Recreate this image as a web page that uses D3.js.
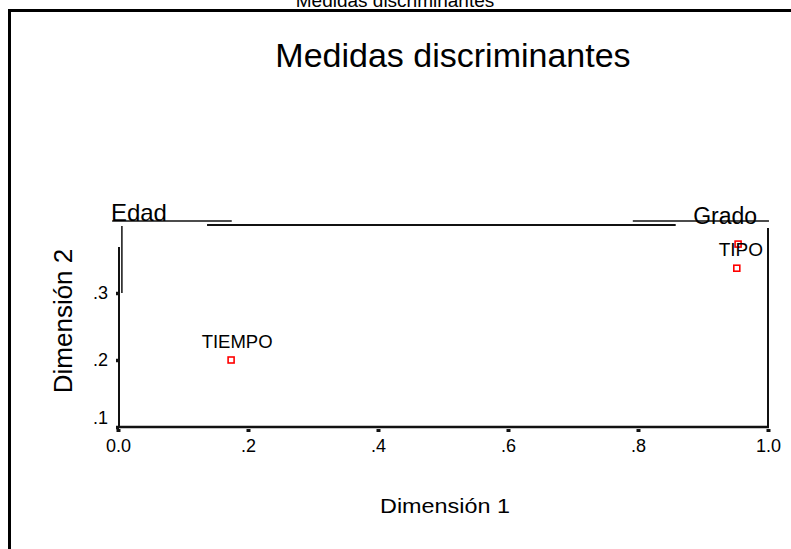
<!DOCTYPE html>
<html>
<head>
<meta charset="utf-8">
<script src="https://cdn.jsdelivr.net/npm/d3@7"></script>
<style>
body { margin: 0; background: #fff; }
text { font-family: "Liberation Sans", Arial, sans-serif; fill: #000; }
</style>
</head>
<body>
<script>
// discriminant measures
var names = ["Edad", "Grado", "TIPO", "TIEMPO"];
var dim1 = [0.003, 0.954, 0.952, 0.174];
var dim2 = [0.407, 0.373, 0.337, 0.200];
var xTicks = [0, 0.2, 0.4, 0.6, 0.8, 1.0];
var yTicks = [0.1, 0.2, 0.3];

var w = 791;
var h = 549;
var svg = d3.select("body").append("svg")
    .attr("width", w)
    .attr("height", h);

var x = d3.scaleLinear().domain([0, 1]).range([118, 768]);
var y = d3.scaleLinear().domain([0.1, 0.3]).range([427, 293]);

var fmt = function(v) {
    var s = d3.format(".1f")(v);
    return (v > 0 && v < 1) ? s.slice(1) : s;
};

// outer frame (runs off the page on the right and bottom)
svg.append("path")
    .attr("d", "M9.5," + h + " V10.5 H" + w)
    .attr("fill", "none")
    .attr("stroke", "black")
    .attr("stroke-width", 3);

// title of the page above, mostly cut off
svg.append("text")
    .attr("x", 395)
    .attr("y", 7)
    .attr("text-anchor", "middle")
    .style("font-size", "19px")
    .text("Medidas discriminantes");

// chart title
svg.append("text")
    .attr("x", 453)
    .attr("y", 67)
    .attr("text-anchor", "middle")
    .style("font-size", "34px")
    .text("Medidas discriminantes");

// plot frame pieces, in data units
var frame = [
    {x0: -0.009, y0: 0.4075, x1: 0.175, y1: 0.4075, sw: 1.5},
    {x0: 0.137, y0: 0.4015, x1: 0.858, y1: 0.4015, sw: 2},
    {x0: 0.792, y0: 0.4075, x1: 1.0015, y1: 0.4075, sw: 1.5},
    {x0: 1.0, y0: 0.397, x1: 1.0, y1: 0.1, sw: 2},
    {x0: 0.0015, y0: 0.3687, x1: 0.0015, y1: 0.1, sw: 2},
    {x0: 0.006, y0: 0.4, x1: 0.006, y1: 0.3, sw: 1.5},
    {x0: 0, y0: 0.1, x1: 1.0015, y1: 0.1, sw: 2.5}
];
svg.selectAll(".frame").data(frame).enter().append("line")
    .attr("class", "frame")
    .attr("x1", d => x(d.x0))
    .attr("y1", d => y(d.y0))
    .attr("x2", d => x(d.x1))
    .attr("y2", d => y(d.y1))
    .attr("stroke", "#111")
    .attr("stroke-width", d => d.sw);

// x axis
var xAxis = svg.append("g")
    .attr("transform", "translate(0,429)")
    .call(d3.axisBottom(x).tickValues(xTicks).tickFormat(fmt).tickSize(3));
xAxis.select(".domain").remove();
xAxis.selectAll("line").attr("stroke", "#111").attr("stroke-width", 4);
xAxis.selectAll("text")
    .attr("y", 23)
    .attr("dy", 0)
    .attr("fill", "#000")
    .style("font-size", "18px")
    .style("font-family", "'Liberation Sans', Arial, sans-serif");

// y axis
var yAxis = svg.append("g")
    .attr("transform", "translate(119,0)")
    .call(d3.axisLeft(y).tickValues(yTicks).tickFormat(fmt).tickSize(3));
yAxis.select(".domain").remove();
yAxis.selectAll("line").attr("stroke", "#111").attr("stroke-width", 3.5);
yAxis.selectAll("text")
    .attr("x", -11)
    .attr("dy", (d, i) => i === 0 ? -4 : 5)
    .attr("fill", "#000")
    .style("font-size", "18px")
    .style("font-family", "'Liberation Sans', Arial, sans-serif");

// axis titles
svg.append("text")
    .attr("x", 445)
    .attr("y", 513)
    .attr("text-anchor", "middle")
    .attr("textLength", 130)
    .attr("lengthAdjust", "spacingAndGlyphs")
    .style("font-size", "20px")
    .text("Dimensión 1");

svg.append("text")
    .attr("transform", "translate(72,321) rotate(-90)")
    .attr("text-anchor", "middle")
    .style("font-size", "26px")
    .text("Dimensión 2");

// points
svg.append("clipPath").attr("id", "plotclip")
    .append("rect")
    .attr("x", 118).attr("y", 226)
    .attr("width", 652).attr("height", 204);

var pts = names.map((n, i) => ({name: n, d1: dim1[i], d2: dim2[i]}));

svg.append("g").attr("clip-path", "url(#plotclip)")
    .selectAll("rect").data(pts).enter().append("rect")
    .attr("x", d => x(d.d1) - 3)
    .attr("y", d => y(d.d2) - 3)
    .attr("width", 6)
    .attr("height", 6)
    .attr("fill", "white")
    .attr("stroke", "#f00")
    .attr("stroke-width", 1.6);

// label placement, pixels from the marker
var labelPos = {
    Edad:   {dx: 19, dy: 0, size: 24},
    Grado:  {dx: -13, dy: -20, size: 23},
    TIPO:   {dx: 4, dy: -12, size: 19},
    TIEMPO: {dx: 6, dy: -12, size: 18.5}
};

svg.selectAll(".lbl").data(pts).enter().append("text")
    .attr("class", "lbl")
    .attr("x", d => x(d.d1) + labelPos[d.name].dx)
    .attr("y", d => y(d.d2) + labelPos[d.name].dy)
    .attr("text-anchor", "middle")
    .style("font-size", d => labelPos[d.name].size + "px")
    .text(d => d.name);
</script>
</body>
</html>
